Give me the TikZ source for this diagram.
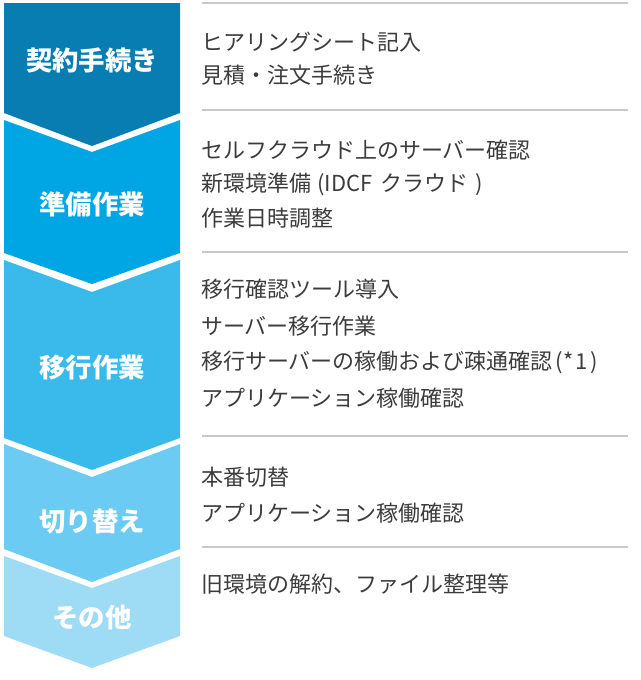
\documentclass[tikz,border=0pt]{standalone}
\usepackage{fontspec}
\newfontfamily\jp{Noto Sans CJK JP}
\definecolor{cA}{RGB}{8,125,178}
\definecolor{cB}{RGB}{0,166,228}
\definecolor{cC}{RGB}{58,186,235}
\definecolor{cD}{RGB}{108,203,242}
\definecolor{cE}{RGB}{158,219,245}
\definecolor{txt}{RGB}{60,60,60}
\definecolor{rule}{RGB}{200,200,200}
\tikzset{
  phase/.style={text=white,font=\jp\bfseries\fontsize{26.4}{26.4}\selectfont,inner sep=0pt},
  item/.style={text=txt,font=\jp\fontsize{22}{22}\selectfont,anchor=west,inner sep=0pt},
  sep/.style={draw=rule,line width=1.2pt}
}
\begin{document}
\begin{tikzpicture}[x=1pt,y=-1pt]
\useasboundingbox (0,0) rectangle (640,680);
% chevrons
\fill[cA] (4,3) -- (180,3) -- (180,113) -- (92,146) -- (4,113) -- cycle;
\fill[cB] (4,120) -- (92,152) -- (180,120) -- (180,253) -- (92,284) -- (4,253) -- cycle;
\fill[cC] (4,260) -- (92,292) -- (180,260) -- (180,438) -- (92,470) -- (4,438) -- cycle;
\fill[cD] (4,444) -- (92,477) -- (180,444) -- (180,549) -- (92,582) -- (4,549) -- cycle;
\fill[cE] (4,556) -- (92,588) -- (180,556) -- (180,636) -- (92,668) -- (4,636) -- cycle;
% phase labels
\node[phase] (p1) at (92,60) {契約手続き};
\node[phase] (p2) at (92,204) {準備作業};
\node[phase] (p3) at (92,368) {移行作業};
\node[phase] (p4) at (92,522) {切り替え};
\node[phase] (p5) at (92,618) {その他};
% separators
\draw[sep] (202,3) -- (628,3);
\draw[sep] (202,110) -- (628,110);
\draw[sep] (202,252) -- (628,252);
\draw[sep] (202,436) -- (628,436);
\draw[sep] (202,547) -- (628,547);
% items
\node[item] (a1) at (201,42) {ヒアリングシート記入};
\node[item] (a2) at (201,75) {見積・注文手続き};
\node[item] (b1) at (201,150) {セルフクラウド上のサーバー確認};
\node[item] (b2) at (201,184) {新環境準備\hspace{6pt}(IDCF\hspace{8pt}クラウド\hspace{7pt})};
\node[item] (b3) at (201,218) {作業日時調整};
\node[item] (c1) at (201,289) {移行確認ツール導入};
\node[item] (c2) at (201,326) {サーバー移行作業};
\node[item] (c3) at (201,362) {移行サーバーの稼働および疎通確認\hspace{3pt}(*\hspace{2pt}1\hspace{3pt})};
\node[item] (c4) at (201,398) {アプリケーション稼働確認};
\node[item] (d1) at (201,477) {本番切替};
\node[item] (d2) at (201,513) {アプリケーション稼働確認};
\node[item] (e1) at (201,584) {旧環境の解約、ファイル整理等};
\end{tikzpicture}
\end{document}
